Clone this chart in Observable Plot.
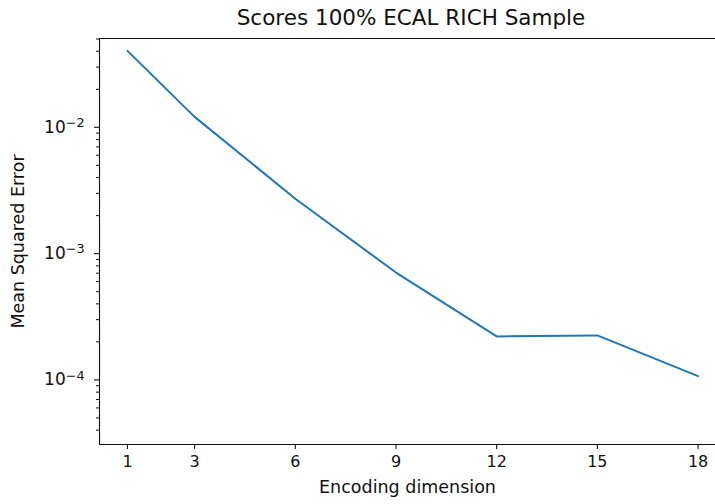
<!DOCTYPE html>
<html>
<head>
<meta charset="utf-8">
<script src="https://cdn.jsdelivr.net/npm/d3@7"></script>
<script src="https://cdn.jsdelivr.net/npm/@observablehq/plot@0.6"></script>
<style>
  html, body { margin: 0; padding: 0; background: #fff; }
  #wrap { width: 715px; font-family: "DejaVu Sans", sans-serif; }
  #title { height: 30px; line-height: 36px; font-size: 21.5px; color: #111; padding-left: 107px; text-align: center; box-sizing: border-box; white-space: nowrap; }
  svg { display: block; }
</style>
</head>
<body>
<div id="wrap">
  <div id="title"></div>
  <div id="chart"></div>
</div>
<script>
const titleText = "Scores 100% ECAL RICH Sample";
const xLabel = "Encoding dimension";
const yLabel = "Mean Squared Error";
const dims = [1, 3, 6, 9, 12, 15, 18];
const mse = [0.0403, 0.0121, 0.00272, 0.000708, 0.000221, 0.000225, 0.000107];
const xTicks = [1, 3, 6, 9, 12, 15, 18];
const yMajor = [1e-4, 1e-3, 1e-2];
const yMinorMantissas = [2, 3, 4, 5, 6, 7, 8, 9];
const yMinorExponents = [-5, -4, -3, -2];
const xDomain = [0.166, 18.52];
const yDomain = [3.08e-5, 0.0505];

const yMinor = [];
for (const e of yMinorExponents) for (const m of yMinorMantissas) yMinor.push(m * Math.pow(10, e));
const data = dims.map((d, i) => ({dim: d, mse: mse[i]}));
const fmt = v => "10^" + Math.round(Math.log10(v));

document.getElementById("title").textContent = titleText;

const ink = "#111";
const chart = Plot.plot({
  width: 715,
  height: 474,
  marginTop: 8,
  marginBottom: 60,
  marginLeft: 99,
  marginRight: 0,
  style: {fontFamily: "DejaVu Sans, sans-serif", fontSize: "16px", color: ink, background: "#fff"},
  x: {domain: xDomain, label: null},
  y: {type: "log", domain: yDomain, label: null},
  marks: [
    Plot.axisX({ticks: xTicks, tickSize: 5, tickPadding: 6, tickFormat: d => String(d), stroke: ink, strokeWidth: 1.1, fontSize: 16}),
    Plot.axisY(yMinor.filter(v => v >= yDomain[0] && v <= yDomain[1]), {tickSize: 3, text: null, stroke: ink, strokeWidth: 1}),
    Plot.axisY({ticks: yMajor, tickSize: 5, tickPadding: 10, tickFormat: fmt, stroke: ink, strokeWidth: 1.1, fontSize: 17}),
    Plot.ruleX([xDomain[0]], {stroke: ink, strokeWidth: 1.1}),
    Plot.ruleY([yDomain[0]], {stroke: ink, strokeWidth: 1.1}),
    Plot.ruleY([yDomain[1]], {stroke: ink, strokeWidth: 1.1}),
    Plot.line(data, {x: "dim", y: "mse", stroke: "#1f77b4", strokeWidth: 2}),
    Plot.text([xLabel], {frameAnchor: "bottom", dy: 48, fontSize: 17.5, fill: ink}),
    Plot.text([yLabel], {frameAnchor: "left", textAnchor: "middle", dx: -81, rotate: -90, fontSize: 17.5, fill: ink})
  ]
});
// render 10^n labels with a raised exponent
chart.querySelectorAll("text").forEach(t => {
  const s = t.textContent;
  if (/^10\^-?\d+$/.test(s)) {
    const exp = s.split("^")[1].replace("-", "\u2212");
    t.textContent = "10";
    const ts = document.createElementNS("http://www.w3.org/2000/svg", "tspan");
    ts.setAttribute("dy", "-0.45em");
    ts.setAttribute("font-size", "0.75em");
    ts.textContent = exp;
    t.appendChild(ts);
  }
});
document.getElementById("chart").appendChild(chart);
</script>
</body>
</html>
